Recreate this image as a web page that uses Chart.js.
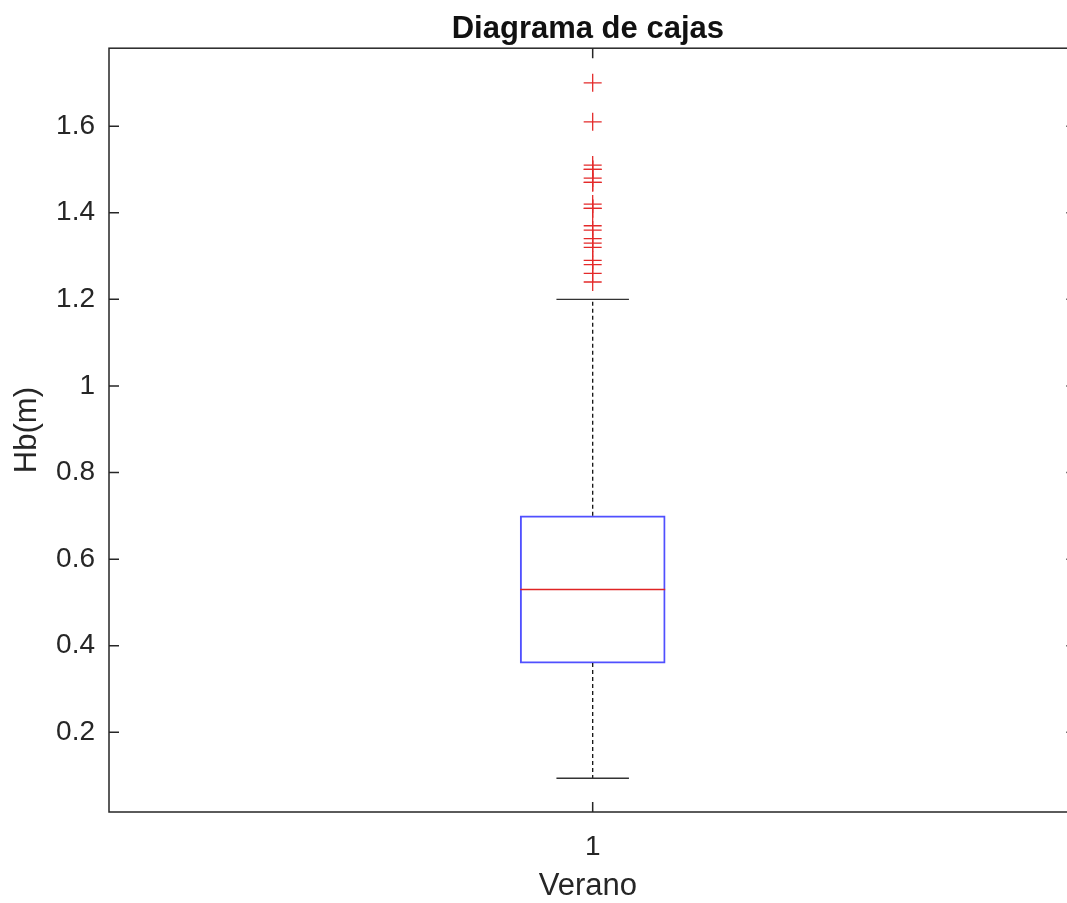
<!DOCTYPE html>
<html>
<head>
<meta charset="utf-8">
<title>Diagrama de cajas</title>
<script src="https://cdn.jsdelivr.net/npm/chart.js@4.4.1/dist/chart.umd.min.js"></script>
<style>
    html, body { margin: 0; padding: 0; background: #fff; overflow: hidden; }
    canvas { display: block; }
</style>
</head>
<body>
<canvas id="boxChart" width="1077" height="903"></canvas>
<script>
// Datos del diagrama
var categories = ['1'];
var positions = [1];
var q1 = [0.36];
var median = [0.53];
var q3 = [0.70];
var whiskerLow = [0.094];
var whiskerHigh = [1.20];
var outliers = [1.70, 1.61, 1.51, 1.50, 1.50, 1.48, 1.47, 1.47, 1.42, 1.41, 1.41,
                1.37, 1.36, 1.34, 1.33, 1.32, 1.29, 1.28, 1.26, 1.24];
var yTicks = [0.2, 0.4, 0.6, 0.8, 1.0, 1.2, 1.4, 1.6];

var textColor = '#262626';
var fontFamily = '"Liberation Sans", Arial, Helvetica, sans-serif';

// Bigotes, mediana, marco y marcas de los ejes
var boxPlugin = {
    id: 'boxExtras',
    afterDatasetsDraw: function(chart) {
        var ctx = chart.ctx;
        var xs = chart.scales.x, ys = chart.scales.y;
        var bar = chart.getDatasetMeta(0).data[0];
        var half = bar.width / 2;
        ctx.save();
        for (var i = 0; i < positions.length; i++) {
            var cx = xs.getPixelForValue(positions[i]);
            // bigotes discontinuos
            ctx.strokeStyle = '#111';
            ctx.lineWidth = 1.3;
            ctx.setLineDash([4, 3]);
            ctx.beginPath();
            ctx.moveTo(cx, ys.getPixelForValue(q3[i]));
            ctx.lineTo(cx, ys.getPixelForValue(whiskerHigh[i]));
            ctx.moveTo(cx, ys.getPixelForValue(q1[i]));
            ctx.lineTo(cx, ys.getPixelForValue(whiskerLow[i]));
            ctx.stroke();
            ctx.setLineDash([]);
            // topes
            ctx.strokeStyle = '#333';
            ctx.beginPath();
            ctx.moveTo(cx - half / 2, ys.getPixelForValue(whiskerHigh[i]));
            ctx.lineTo(cx + half / 2, ys.getPixelForValue(whiskerHigh[i]));
            ctx.moveTo(cx - half / 2, ys.getPixelForValue(whiskerLow[i]));
            ctx.lineTo(cx + half / 2, ys.getPixelForValue(whiskerLow[i]));
            ctx.stroke();
            // mediana
            ctx.strokeStyle = '#e02424';
            ctx.lineWidth = 1.5;
            ctx.beginPath();
            ctx.moveTo(cx - half, ys.getPixelForValue(median[i]));
            ctx.lineTo(cx + half, ys.getPixelForValue(median[i]));
            ctx.stroke();
        }
        ctx.restore();
    },
    afterDraw: function(chart) {
        var ctx = chart.ctx;
        var a = chart.chartArea;
        var xs = chart.scales.x, ys = chart.scales.y;
        var right = xs.getPixelForValue(1.5); // el eje llega a 1.5, fuera de la ventana
        var tl = 10;
        ctx.save();
        ctx.strokeStyle = textColor;
        ctx.lineWidth = 1.5;
        ctx.strokeRect(a.left, a.top, right - a.left, a.bottom - a.top);
        ctx.beginPath();
        ys.ticks.forEach(function(t, i) {
            var py = ys.getPixelForTick(i);
            ctx.moveTo(a.left, py); ctx.lineTo(a.left + tl, py);
            ctx.moveTo(right, py); ctx.lineTo(right - tl, py);
        });
        xs.ticks.forEach(function(t, i) {
            var px = xs.getPixelForTick(i);
            ctx.moveTo(px, a.bottom); ctx.lineTo(px, a.bottom - tl);
            ctx.moveTo(px, a.top); ctx.lineTo(px, a.top + tl);
        });
        ctx.stroke();
        ctx.restore();
    }
};

var ctx = document.getElementById('boxChart').getContext('2d');
var myChart = new Chart(ctx, {
    type: 'bar',
    data: {
        datasets: [{
            label: 'Caja',
            data: positions.map(function(p, i) { return { x: p, y: [q1[i], q3[i]] }; }),
            backgroundColor: 'rgba(0,0,0,0)',
            borderColor: '#5050ff',
            borderWidth: 1.3,
            borderSkipped: false,
            barThickness: 145
        }, {
            type: 'line',
            label: 'Atipicos',
            data: outliers.map(function(v) { return { x: positions[0], y: v }; }),
            showLine: false,
            pointStyle: 'cross',
            pointRadius: 9,
            pointBorderWidth: 1.3,
            borderColor: '#e42a2a',
            backgroundColor: '#e42a2a'
        }]
    },
    options: {
        responsive: false,
        animation: false,
        layout: { padding: 0 },
        plugins: {
            legend: { display: false },
            tooltip: { enabled: false },
            title: {
                display: true,
                text: 'Diagrama de cajas',
                fullSize: false,
                color: '#111',
                font: { family: fontFamily, size: 31, weight: 'bold', lineHeight: 1.2 },
                padding: { top: 11, bottom: 0 }
            }
        },
        scales: {
            x: {
                type: 'linear',
                offset: false,
                min: 0.5,
                max: 1.49, // parte visible del eje 0.5 - 1.5
                grid: { display: false, drawTicks: false },
                border: { display: false },
                afterBuildTicks: function(scale) {
                    scale.ticks = positions.map(function(v) { return { value: v }; });
                },
                ticks: {
                    color: textColor,
                    padding: 18,
                    font: { family: fontFamily, size: 28 },
                    callback: function(value, index) { return categories[index]; }
                },
                title: {
                    display: true,
                    text: 'Verano',
                    color: textColor,
                    font: { family: fontFamily, size: 31, lineHeight: 1 },
                    padding: { top: 0, bottom: 1 }
                },
                afterFit: function(scale) { scale.height = 91; }
            },
            y: {
                min: 0.016,
                max: 1.78,
                grid: { display: false, drawTicks: false },
                border: { display: false },
                afterBuildTicks: function(scale) {
                    scale.ticks = yTicks.map(function(v) { return { value: v }; });
                },
                ticks: {
                    color: textColor,
                    padding: 14,
                    font: { family: fontFamily, size: 28 },
                    callback: function(value) { return String(+value.toFixed(1)); }
                },
                title: {
                    display: true,
                    text: 'Hb(m)',
                    color: textColor,
                    font: { family: fontFamily, size: 31, lineHeight: 1 },
                    padding: { top: 12, bottom: 0 }
                },
                afterFit: function(scale) { scale.width = 109; }
            }
        }
    },
    plugins: [boxPlugin]
});
</script>
</body>
</html>
